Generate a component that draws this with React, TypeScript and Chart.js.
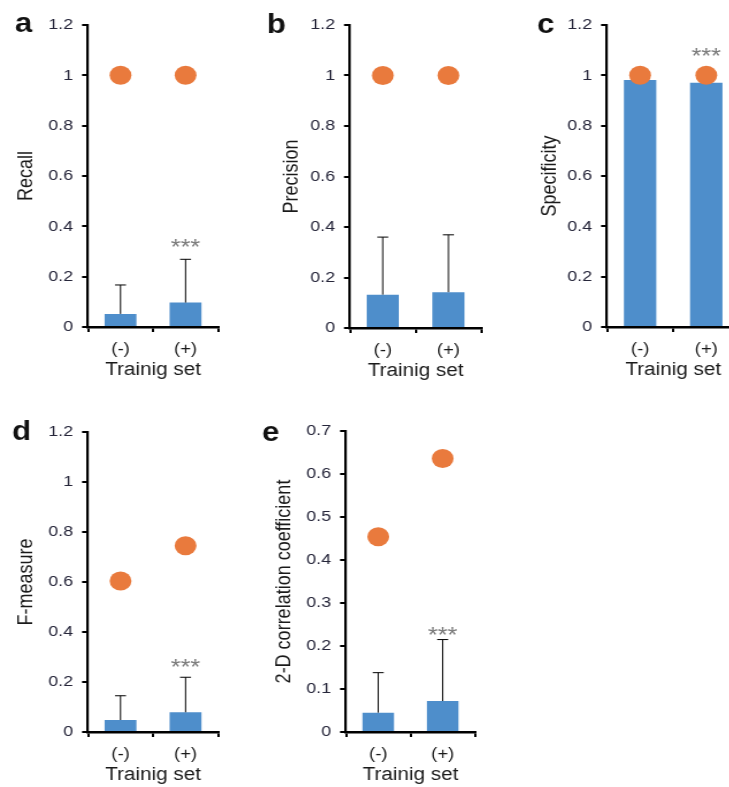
import React, { useEffect, useRef } from 'react';
import { Chart, registerables } from 'chart.js';

Chart.register(...registerables);

// ---------------- data ----------------
const categories = ['(-)', '(+)'];
const xTitle = 'Trainig set';

const unitTicks = [0, 0.2, 0.4, 0.6, 0.8, 1, 1.2];
const corrTicks = [0, 0.1, 0.2, 0.3, 0.4, 0.5, 0.6, 0.7];

const recallBars = [0.052, 0.097];
const recallErr = [0.167, 0.269];
const recallDots = [1, 1];
const recallSig = [null, 0.339];

const precisionBars = [0.132, 0.142];
const precisionErr = [0.36, 0.369];
const precisionDots = [1, 1];
const precisionSig = [null, null];

const specificityBars = [0.981, 0.971];
const specificityErr = [null, null];
const specificityDots = [1, 1];
const specificitySig = [null, 1.098];

const fBars = [0.048, 0.079];
const fErr = [0.145, 0.219];
const fDots = [0.604, 0.745];
const fSig = [null, 0.281];

const corrBars = [0.045, 0.072];
const corrErr = [0.138, 0.215];
const corrDots = [0.454, 0.636];
const corrSig = [null, 0.237];

// ---------------- styling / layout ----------------
const S = 1.15; // horizontal stretch of the original figure
const FONT = '"Liberation Sans", Arial, Helvetica, sans-serif';
const BAR = '#4e8ecb';
const DOT = '#e97a3d';
const TICK_COLOR = '#26263a';
const TEXT = '#1a1a1a';

type Layout = {
  axisX: number; rightX: number; topY: number; bottomY: number;
  titleX: number; letterX: number; letterBase: number;
};

type Spec = {
  letter: string; yTitle: string; ticks: number[];
  bars: number[]; err: (number | null)[]; dots: number[]; sig: (number | null)[];
  layout: Layout;
};

const panels: Spec[] = [
  { letter: 'a', yTitle: 'Recall', ticks: unitTicks, bars: recallBars, err: recallErr, dots: recallDots, sig: recallSig,
    layout: { axisX: 88, rightX: 218, topY: 25, bottomY: 327, titleX: 27, letterX: 15, letterBase: 32 } },
  { letter: 'b', yTitle: 'Precision', ticks: unitTicks, bars: precisionBars, err: precisionErr, dots: precisionDots, sig: precisionSig,
    layout: { axisX: 350, rightX: 481, topY: 25, bottomY: 328, titleX: 292, letterX: 267, letterBase: 33 } },
  { letter: 'c', yTitle: 'Specificity', ticks: unitTicks, bars: specificityBars, err: specificityErr, dots: specificityDots, sig: specificitySig,
    layout: { axisX: 607, rightX: 739, topY: 25, bottomY: 327, titleX: 550, letterX: 537, letterBase: 33 } },
  { letter: 'd', yTitle: 'F-measure', ticks: unitTicks, bars: fBars, err: fErr, dots: fDots, sig: fSig,
    layout: { axisX: 88, rightX: 218, topY: 432, bottomY: 732, titleX: 27, letterX: 12, letterBase: 440 } },
  { letter: 'e', yTitle: '2-D correlation coefficient', ticks: corrTicks, bars: corrBars, err: corrErr, dots: corrDots, sig: corrSig,
    layout: { axisX: 346, rightX: 475, topY: 431, bottomY: 732, titleX: 284.7, letterX: 262, letterBase: 441 } },
];

const fmt = (v: number) => Number(v).toFixed(1).replace(/\.0$/, '');

function Panel({ spec }: { spec: Spec }) {
  const ref = useRef<HTMLCanvasElement>(null);
  const L = spec.layout;
  const leftPage = L.axisX - 88;
  const topPage = L.topY - 25;
  const wInt = Math.round((88 + (L.rightX - L.axisX) + 20) / S);
  const hInt = 25 + (L.bottomY - L.topY) + 70;

  useEffect(() => {
    const yW = 88 / S;
    const titleCenter = (L.titleX - leftPage) / S;
    const annot = {
      id: 'annot',
      afterDatasetsDraw(chart: any) {
        const ctx = chart.ctx;
        const xs = chart.scales.x;
        const ys = chart.scales.y;
        ctx.save();
        // error bars
        ctx.strokeStyle = '#000';
        ctx.lineWidth = 1;
        spec.err.forEach((e, i) => {
          if (e == null) return;
          const x = xs.getPixelForValue(i);
          const y0 = ys.getPixelForValue(spec.bars[i]);
          const y1 = ys.getPixelForValue(e);
          ctx.beginPath();
          ctx.moveTo(x, y0);
          ctx.lineTo(x, y1);
          ctx.moveTo(x - 4.8, y1);
          ctx.lineTo(x + 4.8, y1);
          ctx.stroke();
        });
        // significance stars
        ctx.fillStyle = '#7a7a7a';
        ctx.font = `22px ${FONT}`;
        ctx.textAlign = 'center';
        ctx.textBaseline = 'alphabetic';
        spec.sig.forEach((s, i) => {
          if (s == null) return;
          const x = xs.getPixelForValue(i);
          const y = ys.getPixelForValue(s);
          ctx.fillText('***', x, y + 12);
        });
        // panel letter
        ctx.fillStyle = '#111';
        ctx.font = `bold 27px ${FONT}`;
        ctx.textAlign = 'left';
        ctx.fillText(spec.letter, (L.letterX - leftPage) / S, L.letterBase - topPage);
        ctx.restore();
      },
    };

    const chart = new Chart(ref.current as HTMLCanvasElement, {
      type: 'bar',
      data: {
        labels: categories,
        datasets: [
          {
            type: 'bar',
            data: spec.bars,
            backgroundColor: BAR,
            borderWidth: 0,
            barPercentage: 0.98,
            categoryPercentage: 0.5,
            order: 2,
          } as any,
          {
            type: 'line',
            data: spec.dots,
            showLine: false,
            pointRadius: 9.5,
            pointHoverRadius: 9.5,
            pointBackgroundColor: DOT,
            pointBorderColor: DOT,
            pointBorderWidth: 0,
            order: 1,
            clip: false,
          } as any,
        ],
      },
      options: {
        animation: false,
        responsive: false,
        events: [],
        layout: { padding: { top: 25, right: 20 / S, left: 0, bottom: 0 } },
        plugins: { legend: { display: false }, tooltip: { enabled: false } },
        scales: {
          x: {
            offset: true,
            grid: { drawOnChartArea: false, drawTicks: true, tickLength: 5, color: '#000', lineWidth: 2, offset: true },
            border: { display: true, color: '#000', width: 2.4 },
            ticks: { font: { family: FONT, size: 16 }, color: TEXT, padding: 8.4, maxRotation: 0 },
            title: { display: true, text: xTitle, font: { family: FONT, size: 18 }, color: TEXT, padding: { top: 0, bottom: 15.7 } },
            afterFit: (s: any) => { s.height = 70; },
          },
          y: {
            min: 0,
            max: spec.ticks[spec.ticks.length - 1],
            afterBuildTicks: (s: any) => { s.ticks = spec.ticks.map((v) => ({ value: v })); },
            ticks: { callback: (v: any) => fmt(v), font: { family: FONT, size: 15.5 }, color: TICK_COLOR, padding: 7.8 },
            grid: { drawOnChartArea: false, drawTicks: true, tickLength: 5.2, color: '#000', lineWidth: 2 },
            border: { display: true, color: '#000', width: 2.2 },
            title: { display: true, text: spec.yTitle, font: { family: FONT, size: 18 }, color: TEXT, padding: { top: titleCenter - 10.8, bottom: 0 } },
            afterFit: (s: any) => { s.width = yW; },
          },
        },
      } as any,
      plugins: [annot],
    });
    return () => chart.destroy();
  }, []);

  return (
    <div
      style={{
        position: 'absolute',
        left: leftPage,
        top: topPage,
        width: wInt,
        height: hInt,
        transform: `scaleX(${S})`,
        transformOrigin: '0 0',
      }}
    >
      <canvas ref={ref} width={wInt} height={hInt} style={{ display: 'block' }} />
    </div>
  );
}

export default function App() {
  return (
    <div
      style={{
        position: 'absolute',
        left: 0,
        top: 0,
        width: 729,
        height: 787,
        overflow: 'hidden',
        background: '#fff',
      }}
    >
      {panels.map((p) => (
        <Panel key={p.letter} spec={p} />
      ))}
    </div>
  );
}
